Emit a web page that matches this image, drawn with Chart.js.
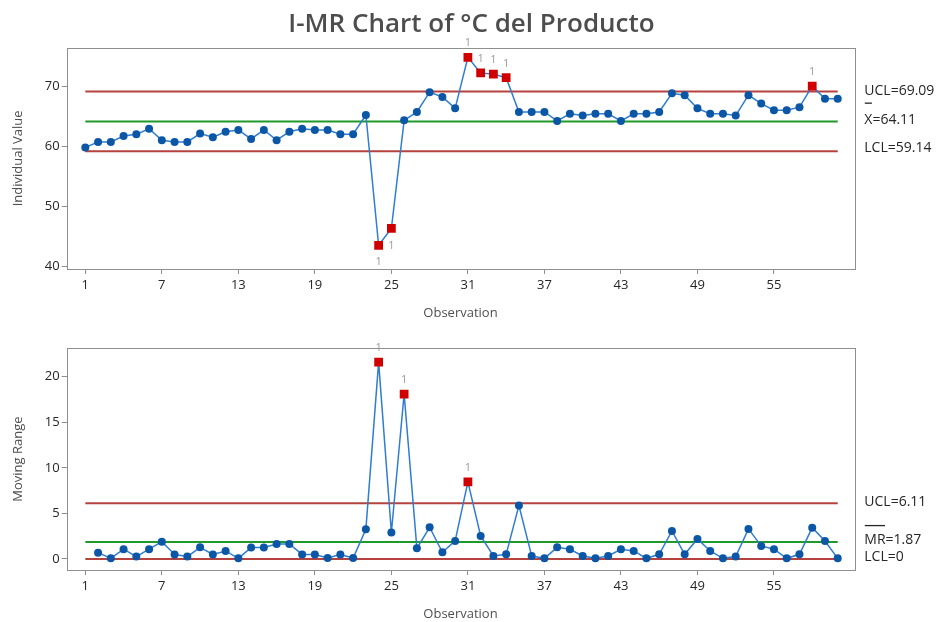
<!DOCTYPE html>
<html><head><meta charset="utf-8">
<script src="https://cdn.jsdelivr.net/npm/chart.js@4.4.1/dist/chart.umd.min.js"></script>
<style>
html,body{margin:0;padding:0;background:#fff}
body{width:943px;height:622px;overflow:hidden;position:relative;font-family:"Open Sans",sans-serif}
#title{position:absolute;left:0;top:0;width:943px;text-align:center;font-size:26px;font-weight:600;color:#4d4d4d;line-height:44px;z-index:2}
#c1{position:absolute;left:0;top:0}
#c2{position:absolute;left:0;top:321px}
</style></head><body>
<div id="title">I-MR Chart of °C del Producto</div>
<canvas id="c1" width="943" height="321"></canvas>
<canvas id="c2" width="943" height="301"></canvas>
<script>
// ---- data ----
const observations = Array.from({length: 60}, (_, i) => i + 1);
const individualValues = [
  59.8, 60.7, 60.7, 61.7, 62.0, 62.9, 61.0, 60.7, 60.7, 62.1,
  61.5, 62.4, 62.7, 61.2, 62.7, 61.0, 62.4, 62.9, 62.7, 62.7,
  62.0, 62.0, 65.2, 43.5, 46.3, 64.3, 65.7, 69.0, 68.2, 66.3,
  74.8, 72.2, 72.0, 71.4, 65.7, 65.7, 65.7, 64.2, 65.4, 65.1,
  65.4, 65.4, 64.2, 65.4, 65.4, 65.7, 68.8, 68.5, 66.3, 65.4,
  65.4, 65.1, 68.5, 67.1, 66.0, 66.0, 66.5, 70.0, 67.9, 67.9
];
const movingRanges = [
  null, 0.69, 0.07, 1.07, 0.26, 1.07, 1.90, 0.50, 0.26, 1.28,
  0.50, 0.88, 0.07, 1.25, 1.25, 1.65, 1.65, 0.50, 0.50, 0.10,
  0.50, 0.10, 3.26, 21.6, 2.90, 18.1, 1.17, 3.48, 0.74, 1.98,
  8.46, 2.53, 0.33, 0.51, 5.86, 0.33, 0.07, 1.28, 1.07, 0.33,
  0.07, 0.33, 1.07, 0.88, 0.07, 0.51, 3.07, 0.51, 2.20, 0.88,
  0.07, 0.26, 3.30, 1.43, 1.07, 0.07, 0.51, 3.44, 1.98, 0.07
];
const iUCL = 69.09, iMean = 64.11, iLCL = 59.14;
const mrUCL = 6.11, mrMean = 1.87, mrLCL = 0;
const iFlagged = [24, 25, 31, 32, 33, 34, 58];
const mrFlagged = [24, 26, 31];
const xTickLabels = [1, 7, 13, 19, 25, 31, 37, 43, 49, 55];
const iTickLabels = [40, 50, 60, 70];
const mrTickLabels = [0, 5, 10, 15, 20];

// ---- styles ----
const FONT = '"Open Sans", sans-serif';
const LINE_BLUE = '#2e7dd1', DOT_BLUE = '#0b57a6', FLAG_RED = '#d00000';
const LIM_RED = '#b5423f', CEN_GREEN = '#1f9a2a';

const framePlugin = {
  id: 'frame',
  afterDraw(chart) {
    const o = chart.options.plugins.frame;
    const {ctx, chartArea: a} = chart;
    const ys = chart.scales.y, xs = chart.scales.x;
    ctx.save();
    ctx.strokeStyle = '#8f8f8f';
    ctx.lineWidth = 1;
    ctx.strokeRect(Math.round(a.left) + 0.5, Math.round(a.top) + 0.5,
                   Math.round(a.right - a.left), Math.round(a.bottom - a.top));
    // limit labels
    ctx.fillStyle = '#262626';
    ctx.font = '14px ' + FONT;
    ctx.textAlign = 'left';
    ctx.textBaseline = 'middle';
    const lx = a.right + 10;
    o.labels.forEach(l => {
      const y = ys.getPixelForValue(l.value) + l.dy;
      ctx.fillText(l.text, lx, y);
      if (l.bar) {
        const w = ctx.measureText(l.bar).width;
        ctx.fillRect(lx + 0.5, y - l.barGap, w - 1, 1.3);
      }
    });
    // test-failure markers
    ctx.fillStyle = '#9a9a9a';
    ctx.font = '11px ' + FONT;
    ctx.textAlign = 'center';
    o.flagged.forEach(obs => {
      const v = o.values[obs - 1];
      const px = xs.getPixelForValue(obs);
      const py = ys.getPixelForValue(v);
      if (v > o.center) ctx.fillText('1', px, py - 14);
      else ctx.fillText('1', px, py + 17);
    });
    ctx.restore();
  }
};

function makeChart(canvasId, values, flagged, ucl, center, lcl, yMin, yMax, yTicks, yTitle, topPad, labels) {
  const pts = [];
  observations.forEach((o, i) => { if (values[i] !== null) pts.push({x: o, y: values[i]}); });
  const isFlag = ctx => flagged.includes(ctx.raw ? ctx.raw.x : -1);
  const first = observations[0], last = observations[observations.length - 1];
  const limit = (v, c) => ({
    data: [{x: first, y: v}, {x: last, y: v}], showLine: true, borderColor: c, borderWidth: 2,
    pointRadius: 0, order: 2, fill: false
  });
  return new Chart(document.getElementById(canvasId), {
    type: 'scatter',
    data: {
      datasets: [
        {
          data: pts, showLine: true, borderColor: LINE_BLUE, borderWidth: 1.5, order: 0,
          pointStyle: c => isFlag(c) ? 'rect' : 'circle',
          pointRadius: c => isFlag(c) ? 6.2 : 4,
          pointBackgroundColor: c => isFlag(c) ? FLAG_RED : DOT_BLUE,
          pointBorderWidth: 0
        },
        limit(ucl, LIM_RED), limit(center, CEN_GREEN), limit(lcl, LIM_RED)
      ]
    },
    options: {
      responsive: false, animation: false,
      layout: {padding: {left: 0, right: 88.7, top: topPad, bottom: 0}},
      plugins: {
        legend: {display: false}, tooltip: {enabled: false},
        frame: {labels, flagged, values, center}
      },
      scales: {
        x: {
          type: 'linear', min: -0.46, max: 61.3,
          afterBuildTicks: s => { s.ticks = xTickLabels.map(v => ({value: v})); },
          afterFit: s => { s.height = 52; },
          ticks: {font: {family: FONT, size: 13}, color: '#262626', padding: 3, autoSkip: false, maxRotation: 0},
          grid: {drawOnChartArea: false, drawTicks: true, tickLength: 5, color: '#8f8f8f'},
          border: {display: false},
          title: {display: true, text: 'Observation', font: {family: FONT, size: 13}, color: '#505050', padding: 0}
        },
        y: {
          min: yMin, max: yMax,
          afterBuildTicks: s => { s.ticks = yTicks.map(v => ({value: v})); },
          afterFit: s => { s.width = 66.7; },
          ticks: {font: {family: FONT, size: 13}, color: '#262626', padding: 2},
          grid: {drawOnChartArea: false, drawTicks: true, tickLength: 5, color: '#8f8f8f'},
          border: {display: false},
          title: {display: true, text: yTitle, font: {family: FONT, size: 13}, color: '#505050', padding: {top: 10.5, bottom: 0}}
        }
      }
    },
    plugins: [framePlugin]
  });
}

makeChart('c1', individualValues, iFlagged, iUCL, iMean, iLCL, 39.55, 76.4, iTickLabels,
  'Individual Value', 47.7, [
    {text: 'UCL=69.09', value: iUCL, dy: -1},
    {text: 'X=64.11', value: iMean, dy: -1, bar: 'X', barGap: 18},
    {text: 'LCL=59.14', value: iLCL, dy: -3}
  ]);
makeChart('c2', movingRanges, mrFlagged, mrUCL, mrMean, mrLCL, -1.21, 23.12, mrTickLabels,
  'Moving Range', 27.3, [
    {text: 'UCL=6.11', value: mrUCL, dy: -1},
    {text: 'MR=1.87', value: mrMean, dy: -2, bar: 'MR', barGap: 15},
    {text: 'LCL=0', value: mrLCL, dy: -2}
  ]);
</script>
</body></html>
